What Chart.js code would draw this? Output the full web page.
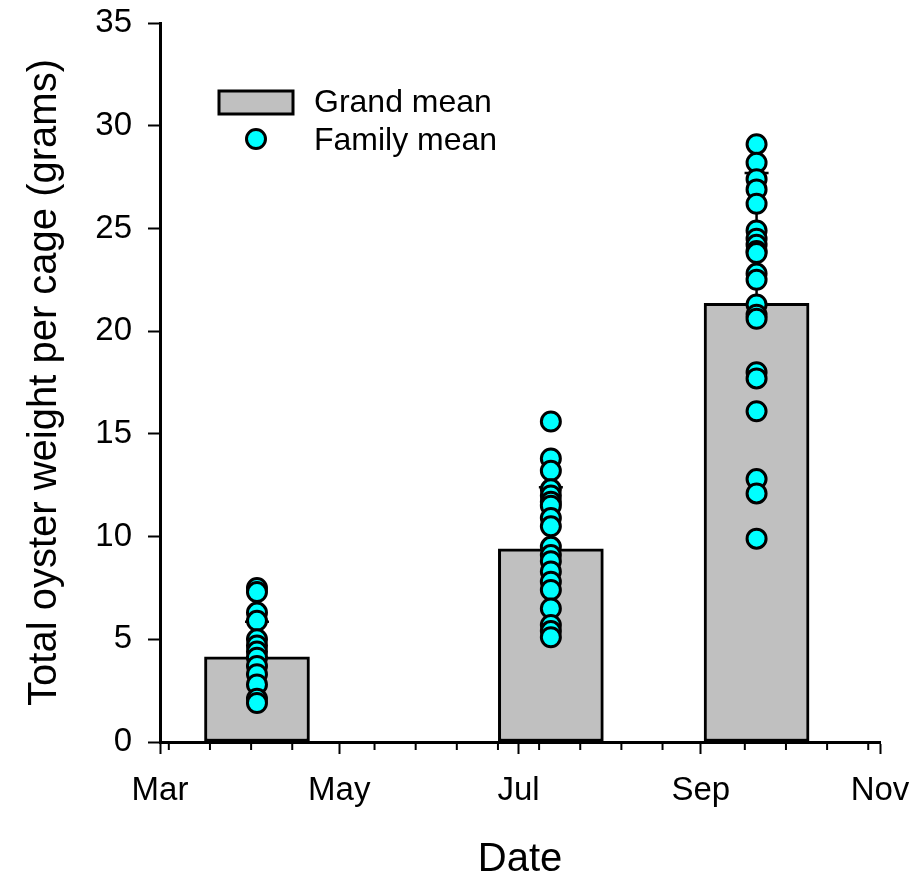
<!DOCTYPE html>
<html lang="en">
<head>
<meta charset="UTF-8">
<title>Total oyster weight per cage</title>
<script src="https://cdn.jsdelivr.net/npm/chart.js"></script>
<style>
  html, body { margin: 0; padding: 0; background: #fff; }
  #wrap { position: relative; width: 915px; height: 877px; }
</style>
</head>
<body>
<div id="wrap"><canvas id="oyster-chart"></canvas></div>
<script>
    // sampling dates (month-day) and grand means with their error
    const sampleDates = ['04-03', '07-12', '09-20'];
    const grandMean = [4.15, 9.4, 21.35];
    const grandErr = [1.7, 3.0, 6.35];

    // family means per sampling date
    const familyApr = [7.5, 7.3, 6.3, 5.9, 5.0, 4.7, 4.4, 4.1, 3.7, 3.3, 2.8, 2.1, 1.9];
    const familyJul = [15.6, 13.8, 13.2, 12.3, 12.0, 11.7, 11.5, 10.9, 10.5, 9.5, 9.1, 8.8, 8.3, 7.8, 7.4, 6.5, 5.7, 5.4, 5.1];
    const familySep = [29.1, 28.2, 27.4, 26.9, 26.2, 24.9, 24.5, 24.2, 23.9, 23.8, 22.8, 22.5, 21.3, 20.8, 20.6, 18.0, 17.7, 16.1, 12.8, 12.1, 9.9];

    // axis ticks
    const monthTicks = ['03-01', '05-01', '07-01', '09-01', '11-01'];
    const monthLabels = ['Mar', 'May', 'Jul', 'Sep', 'Nov'];
    const minorTickDays = [3, 17, 31, 45, 73, 87, 101, 115, 129, 143, 157, 171, 199, 213, 227, 241];
    const yTicks = [0, 5, 10, 15, 20, 25, 30, 35];

    // days since 1 March
    function dayOf(md) {
        const [m, d] = md.split('-').map(Number);
        return (Date.UTC(2001, m - 1, d) - Date.UTC(2001, 2, 1)) / 86400000;
    }

    const familySets = [familyApr, familyJul, familySep];
    const familyPoints = [];
    familySets.forEach((vals, i) => {
        vals.forEach(v => familyPoints.push({ x: dayOf(sampleDates[i]), y: v }));
    });
    const barPoints = sampleDates.map((d, i) => ({ x: dayOf(d), y: grandMean[i] }));

    const FONT = '"Liberation Sans", Arial, sans-serif';
    Chart.defaults.font.family = FONT;
    Chart.defaults.color = '#000';

    const errorBars = {
        id: 'errorBars',
        afterDatasetDraw(chart, args) {
            if (args.index !== 1) return;
            const { ctx, scales: { x, y } } = chart;
            ctx.save();
            ctx.strokeStyle = '#000';
            ctx.lineWidth = 2.5;
            sampleDates.forEach((d, i) => {
                const px = x.getPixelForValue(dayOf(d));
                const y0 = y.getPixelForValue(grandMean[i]);
                const y1 = y.getPixelForValue(grandMean[i] + grandErr[i]);
                ctx.beginPath();
                ctx.moveTo(px, y0);
                ctx.lineTo(px, y1);
                ctx.moveTo(px - 12, y1);
                ctx.lineTo(px + 12, y1);
                ctx.stroke();
            });
            ctx.restore();
        }
    };

    const minorTicks = {
        id: 'minorTicks',
        afterDraw(chart) {
            const { ctx, chartArea, scales: { x } } = chart;
            ctx.save();
            ctx.strokeStyle = '#000';
            ctx.lineWidth = 2;
            minorTickDays.forEach(day => {
                const px = x.getPixelForValue(day);
                ctx.beginPath();
                ctx.moveTo(px, chartArea.bottom);
                ctx.lineTo(px, chartArea.bottom + 8);
                ctx.stroke();
            });
            ctx.restore();
        }
    };

    const boxLegend = {
        id: 'boxLegend',
        afterDraw(chart) {
            const ctx = chart.ctx;
            const left = chart.chartArea.left;
            const top = chart.chartArea.top;
            ctx.save();
            ctx.fillStyle = '#c0c0c0';
            ctx.strokeStyle = '#000';
            ctx.lineWidth = 3;
            ctx.fillRect(left + 59, top + 68, 74, 23);
            ctx.strokeRect(left + 59, top + 68, 74, 23);
            ctx.beginPath();
            ctx.arc(left + 96, top + 116, 9.5, 0, Math.PI * 2);
            ctx.fillStyle = '#00ffff';
            ctx.fill();
            ctx.stroke();
            ctx.fillStyle = '#000';
            ctx.font = '32px ' + FONT;
            ctx.textBaseline = 'middle';
            ctx.fillText('Grand mean', left + 154, top + 80);
            ctx.fillText('Family mean', left + 154, top + 118);
            ctx.restore();
        }
    };

    new Chart(document.getElementById('oyster-chart'), {
        type: 'bar',
        data: {
            datasets: [{
                type: 'scatter',
                label: 'Family mean',
                data: familyPoints,
                pointRadius: 9.5,
                pointBackgroundColor: '#00ffff',
                pointBorderColor: '#000',
                pointBorderWidth: 3,
                showLine: false,
                order: 0
            }, {
                type: 'bar',
                label: 'Grand mean',
                data: barPoints,
                backgroundColor: '#c0c0c0',
                borderColor: '#000',
                borderWidth: 3,
                borderSkipped: false,
                barThickness: 105,
                order: 1
            }]
        },
        options: {
            responsive: true,
            maintainAspectRatio: false,
            animation: false,
            layout: { padding: { top: 23, right: 35, left: 0, bottom: 0 } },
            plugins: {
                legend: { display: false },
                tooltip: { enabled: false }
            },
            scales: {
                x: {
                    type: 'linear',
                    min: dayOf(monthTicks[0]),
                    max: dayOf(monthTicks[monthTicks.length - 1]),
                    offset: false,
                    afterBuildTicks: s => { s.ticks = monthTicks.map(d => ({ value: dayOf(d) })); },
                    afterFit: s => {
                        s.height = 135;
                        s.paddingLeft = 0;
                        s.paddingRight = 0;
                    },
                    ticks: {
                        autoSkip: false,
                        maxRotation: 0,
                        padding: 17,
                        font: { size: 33 },
                        callback: v => monthLabels[monthTicks.findIndex(d => dayOf(d) === v)]
                    },
                    grid: { offset: false, drawOnChartArea: false, tickLength: 12, tickWidth: 2, tickColor: '#000' },
                    border: { color: '#000', width: 3 },
                    title: { display: true, text: 'Date', font: { size: 40, lineHeight: 0.85 }, padding: { top: 0, bottom: 0 } }
                },
                y: {
                    min: 0,
                    max: 35,
                    afterBuildTicks: s => { s.ticks = yTicks.map(v => ({ value: v })); },
                    afterFit: s => {
                        s.width = 160;
                        s.paddingTop = 0;
                        s.paddingBottom = 0;
                    },
                    ticks: { padding: 16, font: { size: 33 } },
                    grid: { drawOnChartArea: false, tickLength: 12, tickWidth: 2, tickColor: '#000' },
                    border: { color: '#000', width: 3 },
                    title: { display: true, text: 'Total oyster weight per cage (grams)', font: { size: 40, lineHeight: 1 }, padding: { top: 25, bottom: 0 } }
                }
            }
        },
        plugins: [errorBars, minorTicks, boxLegend]
    });
</script>
</body>
</html>
